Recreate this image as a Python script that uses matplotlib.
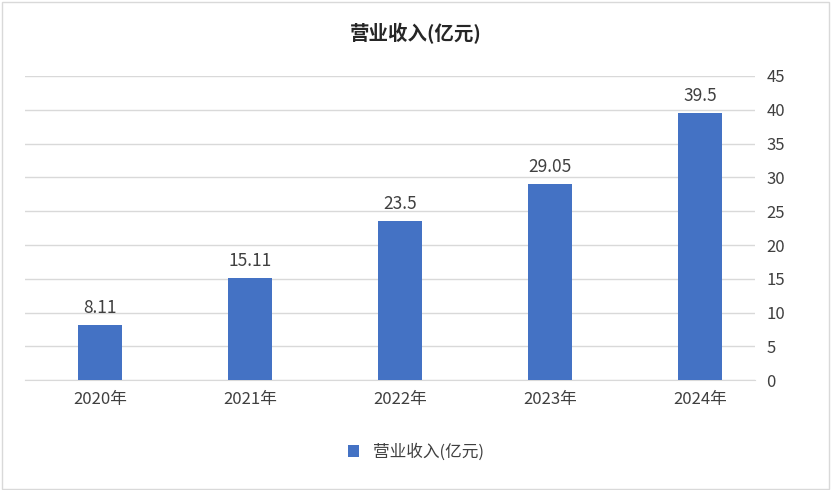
import matplotlib
matplotlib.use('Agg')
import matplotlib.pyplot as plt
from matplotlib.patches import Rectangle

plt.rcParams['font.family'] = ['Noto Sans CJK SC', 'DejaVu Sans']

YEARS = ['2020年', '2021年', '2022年', '2023年', '2024年']
REVENUE = [8.11, 15.11, 23.5, 29.05, 39.5]
LABELS = ['8.11', '15.11', '23.5', '29.05', '39.5']
SERIES = '营业收入(亿元)'
BAR_COL = '#4472C4'

fig = plt.figure(figsize=(8.31, 4.90), dpi=100)
ax = fig.add_axes([0.03, 0.224, 0.879, 0.621])
x = range(len(YEARS))
bars = ax.bar(x, REVENUE, width=0.29, color=BAR_COL, label=SERIES, zorder=3)
for xi, v, t in zip(x, REVENUE, LABELS):
    ax.text(xi, v + 1.2, t, ha='center', va='bottom', fontsize=12.5, color='#404040')

ax.set_ylim(0, 45)
ax.set_xlim(-0.5, 4.37)
ax.set_yticks(range(0, 46, 5))
ax.yaxis.tick_right()
ax.tick_params(axis='y', length=0, labelsize=12, labelcolor='#404040', pad=8)
ax.tick_params(axis='x', length=0, labelsize=12, labelcolor='#404040', pad=8)
ax.set_xticks(list(x))
ax.set_xticklabels(YEARS)
ax.grid(axis='y', color='#D9D9D9', lw=1, zorder=0)
for s in ['top', 'left', 'right']:
    ax.spines[s].set_visible(False)
ax.spines['bottom'].set_color('#D9D9D9')

fig.text(0.5, 0.932, SERIES, ha='center', va='center', fontsize=14, fontweight='bold', color='#262626')
fig.legend(handles=[bars], labels=[SERIES], loc='center', bbox_to_anchor=(0.5, 0.077),
           frameon=False, fontsize=12, handlelength=0.7, handleheight=0.7, labelcolor='#404040')
fig.patches.append(Rectangle((0.002, 0.003), 0.995, 0.993, transform=fig.transFigure,
                             fill=False, edgecolor='#D9D9D9', lw=1))
fig.savefig('out.png', dpi=100)
